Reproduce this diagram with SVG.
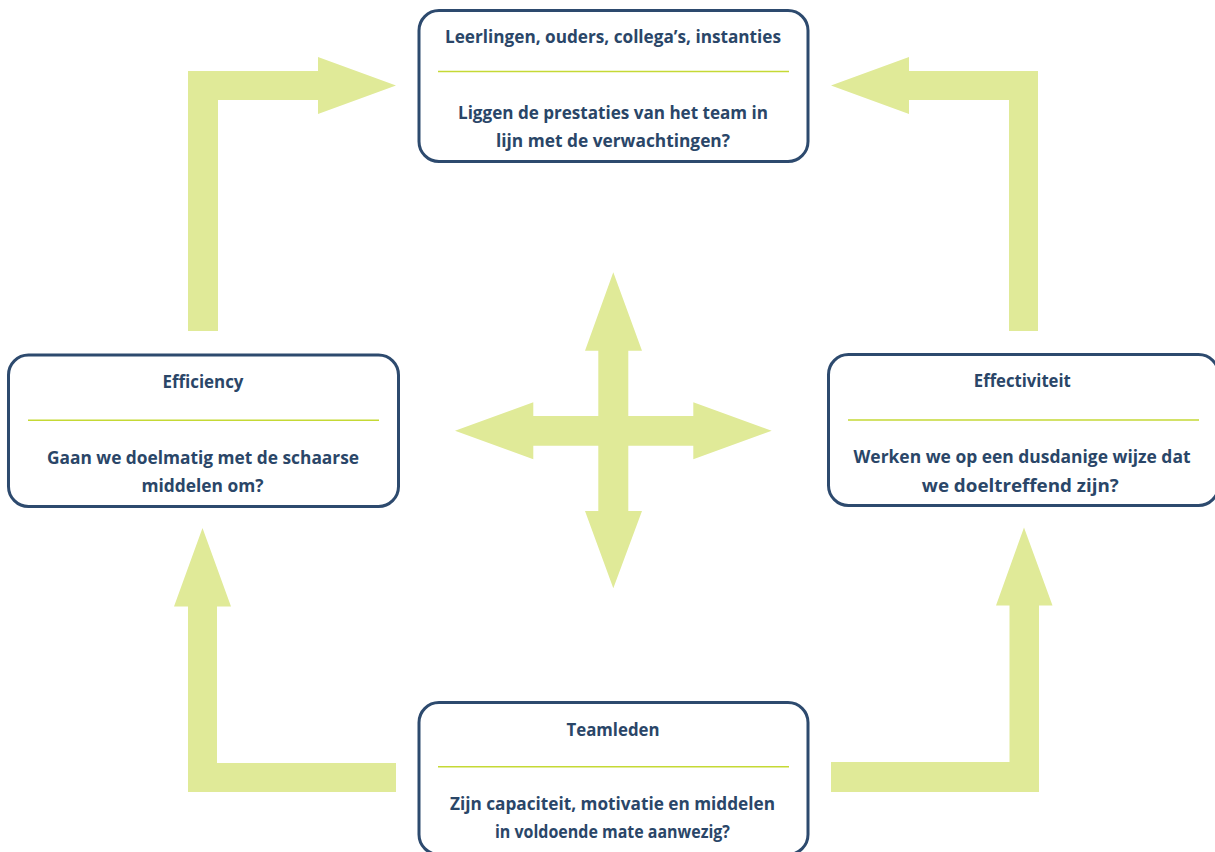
<svg xmlns="http://www.w3.org/2000/svg" width="1215" height="852" viewBox="0 0 1215 852">
<style>
.arrow{fill:#e0ea98;stroke:none}
.box{fill:#ffffff;stroke:#2d4a6e;stroke-width:3}
.div{stroke:#c5d935;stroke-width:1.5}
.t{font-family:"Open Sans","Liberation Sans",sans-serif;font-weight:700;font-size:17.3px;fill:#2a4668;text-anchor:middle}
</style>
<rect width="1215" height="852" fill="#ffffff"/>
<g id="connectors">
<path class="arrow" d="M188,331 L188,71 L318,71 L318,57 L396,85.5 L318,114 L318,100 L218,100 L218,331 Z"/>
<path class="arrow" d="M1038,331 L1038,71 L909,71 L909,57 L831,85.5 L909,114 L909,100 L1009,100 L1009,331 Z"/>
<path class="arrow" d="M396,763 L217,763 L217,606.5 L231,606.5 L202.5,528 L174,606.5 L188,606.5 L188,792 L396,792 Z"/>
<path class="arrow" d="M831,762 L1009.5,762 L1009.5,605.5 L996,605.5 L1024,527.5 L1052.5,605.5 L1039,605.5 L1039,792 L831,792 Z"/>
<path class="arrow" d="M613.3,272.3 L642,350.7 L628.3,350.7 L628.3,416 L693.3,416 L693.3,402.3 L771.7,430.8 L693.3,459.3 L693.3,445.7 L628.3,445.7 L628.3,511 L642,511 L613.3,588.3 L585,511 L598.3,511 L598.3,445.7 L533.3,445.7 L533.3,459.3 L455,430.8 L533.3,402.3 L533.3,416 L598.3,416 L598.3,350.7 L585,350.7 Z"/>
</g>
<g id="node-top">
<rect class="box" x="419" y="10.5" width="389" height="151" rx="20"/>
<line class="div" x1="438" y1="71.5" x2="789" y2="71.5"/>
<text class="t" x="613" y="43.3" textLength="336" lengthAdjust="spacingAndGlyphs">Leerlingen, ouders, collega’s, instanties</text>
<text class="t" x="613" y="119" textLength="310" lengthAdjust="spacingAndGlyphs">Liggen de prestaties van het team in</text>
<text class="t" x="613" y="146.7" textLength="234" lengthAdjust="spacingAndGlyphs">lijn met de verwachtingen?</text>
</g>
<g id="node-left">
<rect class="box" x="8.5" y="355" width="390" height="151.5" rx="20"/>
<line class="div" x1="28" y1="420.3" x2="379" y2="420.3"/>
<text class="t" x="203" y="388.3" textLength="81" lengthAdjust="spacingAndGlyphs">Efficiency</text>
<text class="t" x="203" y="464" textLength="312" lengthAdjust="spacingAndGlyphs">Gaan we doelmatig met de schaarse</text>
<text class="t" x="202.5" y="491.7" textLength="122" lengthAdjust="spacingAndGlyphs">middelen om?</text>
</g>
<g id="node-right">
<rect class="box" x="828.5" y="354.5" width="390" height="151" rx="20"/>
<line class="div" x1="848" y1="420" x2="1199" y2="420"/>
<text class="t" x="1022.3" y="386.7" textLength="97" lengthAdjust="spacingAndGlyphs">Effectiviteit</text>
<text class="t" x="1022" y="463.3" textLength="337" lengthAdjust="spacingAndGlyphs">Werken we op een dusdanige wijze dat</text>
<text class="t" x="1020.3" y="491.7" textLength="197" lengthAdjust="spacingAndGlyphs">we doeltreffend zijn?</text>
</g>
<g id="node-bottom">
<rect class="box" x="419" y="702.5" width="389" height="152" rx="20"/>
<line class="div" x1="438" y1="766.7" x2="789" y2="766.7"/>
<text class="t" x="613" y="735.7" textLength="93" lengthAdjust="spacingAndGlyphs">Teamleden</text>
<text class="t" x="612.5" y="810" textLength="325" lengthAdjust="spacingAndGlyphs">Zijn capaciteit, motivatie en middelen</text>
<text class="t" x="612.5" y="837.7" textLength="235" lengthAdjust="spacingAndGlyphs">in voldoende mate aanwezig?</text>
</g>
</svg>
